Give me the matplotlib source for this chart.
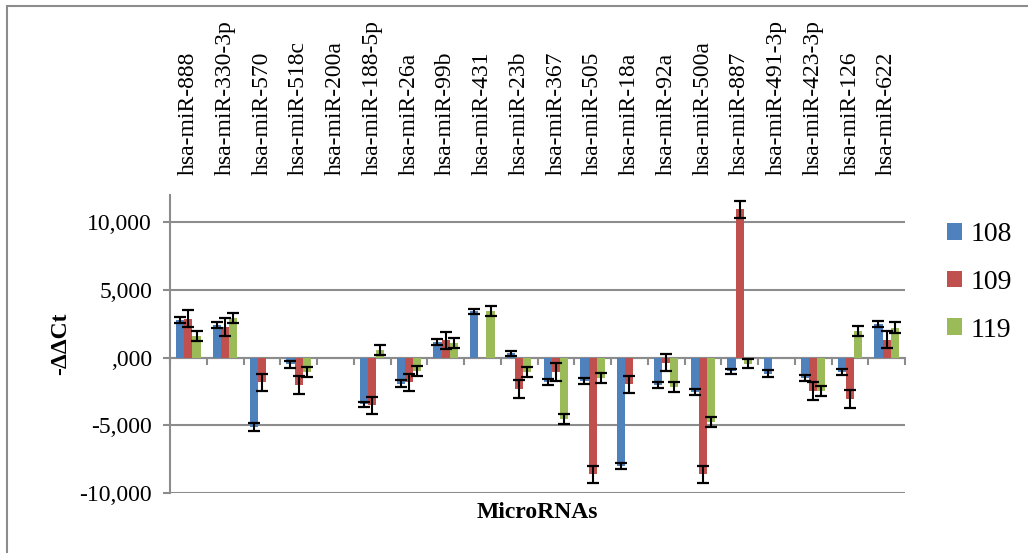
import numpy as np
import matplotlib
matplotlib.use("Agg")
import matplotlib.pyplot as plt
from matplotlib.patches import Rectangle
from matplotlib.ticker import FuncFormatter

plt.rcParams["font.family"] = ["Liberation Serif", "DejaVu Serif"]

mirnas = ["hsa-miR-888", "hsa-miR-330-3p", "hsa-miR-570", "hsa-miR-518c", "hsa-miR-200a",
          "hsa-miR-188-5p", "hsa-miR-26a", "hsa-miR-99b", "hsa-miR-431", "hsa-miR-23b",
          "hsa-miR-367", "hsa-miR-505", "hsa-miR-18a", "hsa-miR-92a", "hsa-miR-500a",
          "hsa-miR-887", "hsa-miR-491-3p", "hsa-miR-423-3p", "hsa-miR-126", "hsa-miR-622"]
samples = ["108", "109", "119"]

# -ddCt per sample
v108 = [2750, 2380, -5150, -490, 0, -3460, -1920, 1150, 3410, 310,
        -1800, -1750, -7980, -2060, -2530, -1030, -1180, -1520, -1080, 2480]
v109 = [2870, 2250, -1840, -2040, 0, -3540, -1840, 1270, 0, -2310,
        -1080, -8620, -1970, -390, -8620, 10940, 0, -2480, -3050, 1320]
v119 = [1570, 2920, 0, -1060, 0, 540, -1010, 1100, 3410, -1060,
        -4520, -1500, 0, -2210, -4760, -440, 0, -2460, 1940, 2210]

# error (nan = no bar drawn)
e108 = [220, 220, 300, 250, np.nan, 210, 260, 200, 210, 200,
        230, 220, 220, 220, 210, 220, 230, 220, 220, 210]
e109 = [640, 640, 650, 660, np.nan, 650, 660, 640, np.nan, 640,
        650, 650, 640, 640, 650, 650, np.nan, 650, 650, 650]
e119 = [370, 380, np.nan, 370, np.nan, 370, 370, 370, 370, 370,
        370, 370, np.nan, 370, 370, 320, np.nan, 370, 370, 380]

colors = ["#4F81BD", "#C0504D", "#9BBB59"]
GRID = "#8c8c8c"

fig = plt.figure(figsize=(10.28, 5.53), dpi=100)
ax = fig.add_axes([170 / 1028, 60 / 553, 735 / 1028, 298 / 553])

x = np.arange(len(mirnas))
w = 1 / 4.5
for i, (vals, errs, c, lab) in enumerate(zip([v108, v109, v119], [e108, e109, e119], colors, samples)):
    ax.bar(x + (i - 1) * w, vals, width=w, color=c, label=lab, zorder=2)
    ax.errorbar(x + (i - 1) * w, vals, yerr=errs, fmt="none", ecolor="black",
                elinewidth=1.5, capsize=4, capthick=1.6, zorder=3)

ax.set_xlim(-0.5, len(mirnas) - 0.5)
ax.set_ylim(-10000, 12000)
ax.set_yticks([-10000, -5000, 0, 5000, 10000])
ax.yaxis.set_major_formatter(FuncFormatter(lambda v, p: f"{v:,.0f}" if v != 0 else ",000"))
ax.yaxis.grid(True, color=GRID, lw=1.5, zorder=0)
ax.set_axisbelow(True)

for s in ["top", "right"]:
    ax.spines[s].set_visible(False)
ax.spines["left"].set_color(GRID)
ax.spines["left"].set_linewidth(1.5)
ax.spines["bottom"].set_position(("data", 0))
ax.spines["bottom"].set_color(GRID)
ax.spines["bottom"].set_linewidth(1.5)
ax.spines["bottom"].set_zorder(1)

ax.tick_params(axis="y", direction="out", length=5, width=1.5, color=GRID, labelsize=17, pad=8)
ax.set_xticks(x)
ax.set_xticklabels(mirnas)
ax.set_xticks(np.arange(len(mirnas) + 1) - 0.5, minor=True)
ax.tick_params(axis="x", which="major", bottom=False, top=False, labelbottom=False,
               labeltop=True, labelrotation=90, labelsize=17, pad=11)
ax.tick_params(axis="x", which="minor", bottom=True, top=False, direction="out",
               length=5, width=1.5, color=GRID)

ax.set_ylabel("-ΔΔCt", fontsize=17, fontweight="bold")
ax.yaxis.set_label_coords(-0.135, 0.5)
fig.text(537 / 1028, 1 - 512 / 553, "MicroRNAs", fontsize=17, fontweight="bold",
         ha="center", va="center")

ax.legend(loc="upper left", bbox_to_anchor=(947 / 1028, 1 - 222 / 553),
          bbox_transform=fig.transFigure, frameon=False, fontsize=20,
          borderpad=0, borderaxespad=0,
          handlelength=0.55, handleheight=0.55, handletextpad=0.3, labelspacing=0.82)

# chart frame
fig.patches.append(Rectangle((7 / 1028, -0.1), 1.1, 1.1 - 6 / 553, transform=fig.transFigure,
                             fill=False, edgecolor=GRID, lw=1.5))

fig.savefig("out.png", dpi=100)
